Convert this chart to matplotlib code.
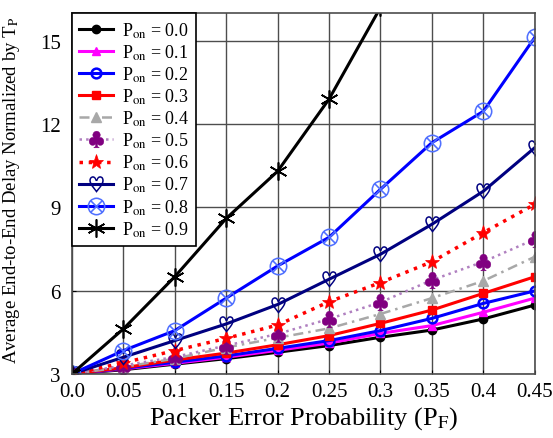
import numpy as np
import matplotlib.pyplot as plt

plt.rcParams['font.family'] = ['Liberation Serif', 'DejaVu Serif']
plt.rcParams['mathtext.fontset'] = 'stix'

# --- data ---
pf = [0.0, 0.05, 0.1, 0.15, 0.2, 0.25, 0.3, 0.35, 0.4, 0.45]
pon_labels = ['0.0', '0.1', '0.2', '0.3', '0.4', '0.5', '0.6', '0.7', '0.8', '0.9']

d_00 = [3.0, 3.15, 3.35, 3.55, 3.78, 4.02, 4.32, 4.58, 4.98, 5.48]
d_01 = [3.0, 3.18, 3.38, 3.60, 3.85, 4.11, 4.46, 4.74, 5.22, 5.73]
d_02 = [3.0, 3.20, 3.42, 3.65, 3.92, 4.20, 4.56, 5.00, 5.54, 5.99]
d_03 = [3.0, 3.22, 3.50, 3.75, 4.05, 4.38, 4.82, 5.30, 5.90, 6.50]
d_04 = [3.0, 3.25, 3.55, 3.95, 4.30, 4.64, 5.16, 5.73, 6.35, 7.22]
d_05 = [3.0, 3.30, 3.61, 4.02, 4.44, 4.98, 5.58, 6.38, 7.04, 7.85]
d_06 = [3.0, 3.40, 3.84, 4.28, 4.76, 5.60, 6.29, 7.04, 8.09, 9.11]
d_07 = [3.0, 3.60, 4.20, 4.80, 5.50, 6.41, 7.31, 8.39, 9.58, 11.15]
d_08 = [3.0, 3.84, 4.56, 5.73, 6.89, 7.92, 9.65, 11.33, 12.46, 15.12]
d_09 = [3.0, 4.62, 6.50, 8.60, 10.30, 12.90, 16.20]

series = [d_00, d_01, d_02, d_03, d_04, d_05, d_06, d_07, d_08, d_09]

styles = [
    dict(color='black', ls='-', marker='o', ms=6, mfc='black', mec='black'),
    dict(color='magenta', ls='-', marker='^', ms=6, mfc='magenta', mec='magenta'),
    dict(color='blue', ls='-', marker='o', ms=7, mfc='none', mec='blue', mew=1.8),
    dict(color='red', ls='-', marker='s', ms=6, mfc='red', mec='red'),
    dict(color='#a8a8a8', ls=(0, (4, 2, 1, 2)), marker='^', ms=7, mfc='#a8a8a8', mec='#a8a8a8', lw=1.8),
    dict(color='#b080c0', ls=':', marker='$\\clubsuit$', ms=12, mfc='#800080', mec='#800080', mew=0.3, lw=1.8),
    dict(color='red', ls=':', marker='*', ms=11, mfc='red', mec='red', mew=0.5, lw=2.5),
    dict(color='#000080', ls='-', marker='$\\heartsuit$', ms=12, mfc='#000080', mec='#000080', mew=0),
    dict(color='blue', ls='-', marker='$\\otimes$', ms=13, mfc='#5070ff', mec='#5070ff', mew=0),
    dict(color='black', ls='-', marker=(6, 2, 0), ms=13, mfc='black', mec='black', mew=1.2),
]

fig = plt.figure(figsize=(5.53, 4.39), dpi=100)
ax = fig.add_axes([0.130, 0.146, 0.837, 0.822])

for lab, y, st in zip(pon_labels, series, styles):
    st = dict(st)
    lw = st.pop('lw', 2.2)
    ax.plot(pf[:len(y)], y, lw=lw, label='P$_{\\mathrm{on}}$ = ' + lab, **st)

ax.set_xlim(0, 0.45)
ax.set_ylim(3, 16)
ax.set_xticks(pf)
ax.set_xticklabels(['0.0', '0.05', '0.1', '0.15', '0.2', '0.25', '0.3', '0.35', '0.4', '0.45'])
ax.set_yticks([3, 6, 9, 12, 15])
ax.tick_params(direction='in', length=3, labelsize=15)
ax.tick_params(axis='y', pad=8)
ax.tick_params(axis='x', pad=6)
ax.grid(True, color='0.3', lw=1)
for s in ax.spines.values():
    s.set_color('0.3')
    s.set_linewidth(1.2)

ax.set_xlabel('Packer Error Probability (P$_{\\mathrm{F}}$)', fontsize=19, labelpad=2)
ax.set_ylabel('Average End-to-End Delay Normalized by T$_{\\mathrm{P}}$', fontsize=13.5)
ax.yaxis.set_label_coords(-0.108, 0.51)

leg = ax.legend(loc='upper left', fontsize=13, frameon=True, fancybox=False,
                edgecolor='black', framealpha=1, borderaxespad=0,
                handlelength=1.9, labelspacing=0.15, borderpad=0.4, handletextpad=0.45)
leg.get_frame().set_linewidth(1.2)

fig.savefig('out.png', dpi=100)
